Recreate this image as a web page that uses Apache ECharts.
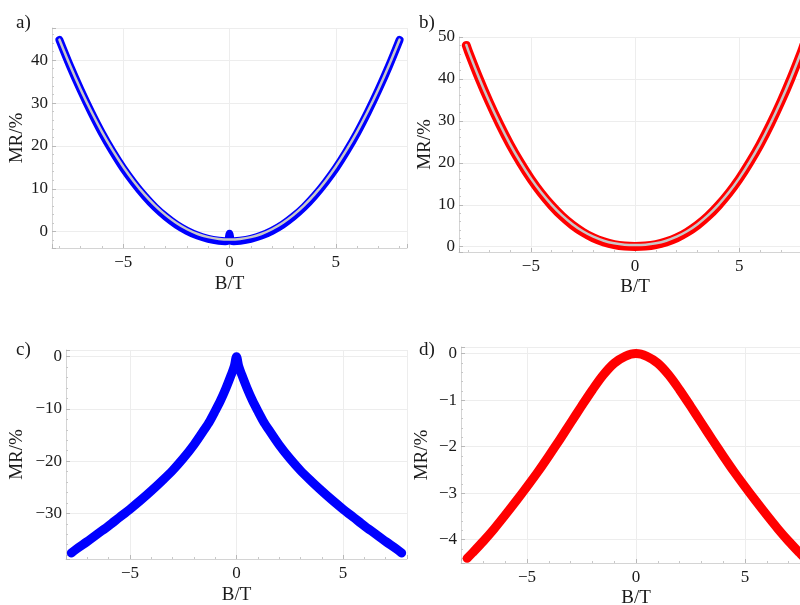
<!DOCTYPE html>
<html>
<head>
<meta charset="utf-8">
<script src="https://cdn.jsdelivr.net/npm/echarts@6/dist/echarts.min.js"></script>
<style>
html,body{margin:0;padding:0;background:#fff;overflow:hidden;}
#c{width:800px;height:605px;}
</style>
</head>
<body>
<div id="c"></div>
<script>
// ---- Panel a (blue data + gray fit) ----
const aFitB = [-8,-7.5,-7,-6.5,-6,-5.5,-5,-4.5,-4,-3.5,-3,-2.5,-2,-1.5,-1,-0.5,0,0.5,1,1.5,2,2.5,3,3.5,4,4.5,5,5.5,6,6.5,7,7.5,8];
const aFitMR = [44.78,38.77,33.18,28.02,23.29,19.02,15.16,11.73,8.70,6.08,3.86,2.02,0.57,-0.53,-1.27,-1.68,-1.8,-1.68,-1.27,-0.53,0.57,2.02,3.86,6.08,8.70,11.73,15.16,19.02,23.29,28.02,33.18,38.77,44.78];
const aDataB = [-8,-7.5,-7,-6.5,-6,-5.5,-5,-4.5,-4,-3.5,-3,-2.5,-2,-1.5,-1,-0.5,-0.2,-0.06,0,0.06,0.2,0.5,1,1.5,2,2.5,3,3.5,4,4.5,5,5.5,6,6.5,7,7.5,8];
const aDataMR = [44.7,38.6,33.0,27.8,23.0,18.7,14.8,11.4,8.35,5.7,3.5,1.65,0.2,-0.9,-1.65,-2.1,-2.2,-2.0,-0.5,-2.0,-2.2,-2.1,-1.65,-0.9,0.2,1.65,3.5,5.7,8.35,11.4,14.8,18.7,23.0,27.8,33.0,38.6,44.7];

// ---- Panel b (red data + gray fit) ----
const bFitB = [-8.1,-8,-7.5,-7,-6.5,-6,-5.5,-5,-4.5,-4,-3.5,-3,-2.5,-2,-1.5,-1,-0.5,0,0.5,1,1.5,2,2.5,3,3.5,4,4.5,5,5.5,6,6.5,7,7.5,8,8.1];
const bFitMR = [48.1,46.7,40.4,34.6,29.3,24.47,20.17,16.3,12.91,9.99,7.46,5.37,3.68,2.38,1.43,0.81,0.48,0.4,0.48,0.81,1.43,2.38,3.68,5.37,7.46,9.99,12.91,16.3,20.17,24.47,29.3,34.6,40.4,46.7,48.1];
const bDataB = bFitB;
const bDataMR = [48.0,46.6,40.3,34.5,29.2,24.35,20.05,16.15,12.75,9.8,7.25,5.15,3.45,2.1,1.15,0.5,0.15,0.05,0.15,0.5,1.15,2.1,3.45,5.15,7.25,9.8,12.75,16.15,20.05,24.35,29.2,34.5,40.3,46.6,48.0];

// ---- Panel c (blue data) ----
const cB = [-7.75,-7.5,-7,-6.5,-6,-5.5,-5,-4.5,-4,-3.5,-3,-2.5,-2,-1.5,-1.25,-1,-0.75,-0.5,-0.25,-0.1,0,0.1,0.25,0.5,0.75,1,1.25,1.5,2,2.5,3,3.5,4,4.5,5,5.5,6,6.5,7,7.5,7.75];
const cMR = [-37.6,-36.8,-35.4,-33.9,-32.4,-30.8,-29.2,-27.5,-25.7,-23.8,-21.8,-19.5,-16.9,-13.9,-12.3,-10.4,-8.4,-6.1,-3.5,-1.8,0,-1.8,-3.5,-6.1,-8.4,-10.4,-12.3,-13.9,-16.9,-19.5,-21.8,-23.8,-25.7,-27.5,-29.2,-30.8,-32.4,-33.9,-35.4,-36.8,-37.6];

// ---- Panel d (red data) ----
const dB = [-7.75,-7.5,-7,-6.5,-6,-5.5,-5,-4.5,-4,-3.5,-3,-2.5,-2,-1.5,-1,-0.5,0,0.5,1,1.5,2,2.5,3,3.5,4,4.5,5,5.5,6,6.5,7,7.5,7.75];
const dMR = [-4.40,-4.28,-4.03,-3.76,-3.47,-3.17,-2.86,-2.54,-2.20,-1.85,-1.49,-1.13,-0.78,-0.46,-0.21,-0.06,0,-0.06,-0.21,-0.46,-0.78,-1.13,-1.49,-1.85,-2.20,-2.54,-2.86,-3.17,-3.47,-3.76,-4.03,-4.28,-4.40];

const xTitle = 'B/T';
const yTitle = 'MR/%';
const panelLabels = ['a)','b)','c)','d)'];

function pairs(xs, ys){ return xs.map((x,i)=>[x, ys[i]]); }
const FONT = 'Liberation Serif';
const fmt = v => String(v).replace('-', '\u2212');

function axisCommon(idx, min, max, split, name, gap, margin, showMax){
  return {
    type:'value', gridIndex: idx, min, max, splitNumber: split,
    name, nameLocation:'middle', nameGap: gap,
    nameTextStyle:{fontFamily:FONT, fontSize:19, color:'#1a1a1a'},
    axisLine:{show:true, onZero:false, lineStyle:{color:'#d4d4d4', width:1}},
    axisTick:{show:true, inside:true, length:4, lineStyle:{color:'#b8b8b8'}},
    minorTick:{show:true, splitNumber:5, length:2, lineStyle:{color:'#c8c8c8'}},
    splitLine:{show:true, lineStyle:{color:'#ededed', width:1}},
    axisLabel:{fontFamily:FONT, fontSize:17, color:'#1a1a1a', margin, formatter: fmt, showMinLabel:false, showMaxLabel:!!showMax}
  };
}
function line(idx, data, color, width, z){
  return {type:'line', xAxisIndex:idx, yAxisIndex:idx, data, showSymbol:false, symbol:'none',
    smooth:0.3, clip:true,
    lineStyle:{color, width, cap:'round', join:'round'}, z, animation:false, silent:true};
}

const chart = echarts.init(document.getElementById('c'), null, {renderer:'canvas'});
chart.setOption({
  backgroundColor:'#fff',
  animation:false,
  grid:[
    {left:52, width:355, top:28, height:220, outerBoundsMode:'none', containLabel:false},
    {left:459, width:352, top:37, height:215, outerBoundsMode:'none', containLabel:false},
    {left:66, width:341, top:350, height:209, outerBoundsMode:'none', containLabel:false},
    {left:461, width:350, top:347, height:216, outerBoundsMode:'none', containLabel:false}
  ],
  xAxis:[
    axisCommon(0, -8.35, 8.35, 3, xTitle, 27, 6),
    axisCommon(1, -8.45, 8.45, 3, xTitle, 26, 6),
    axisCommon(2, -8.0, 8.0, 3, xTitle, 27, 6),
    axisCommon(3, -8.03, 8.03, 3, xTitle, 26, 6)
  ],
  yAxis:[
    axisCommon(0, -3.8, 47.5, 5, yTitle, 25, 4),
    axisCommon(1, -1.26, 50, 5, yTitle, 23, 4, true),
    axisCommon(2, -38.75, 1.28, 4, yTitle, 39, 4),
    axisCommon(3, -4.5, 0.14, 5, yTitle, 29, 4)
  ],
  graphic:[
    {type:'text', left:16, top:14, style:{text:panelLabels[0], font:'19px "Liberation Serif"', fill:'#1a1a1a'}},
    {type:'text', left:419, top:14, style:{text:panelLabels[1], font:'19px "Liberation Serif"', fill:'#1a1a1a'}},
    {type:'text', left:16, top:341, style:{text:panelLabels[2], font:'19px "Liberation Serif"', fill:'#1a1a1a'}},
    {type:'text', left:419, top:341, style:{text:panelLabels[3], font:'19px "Liberation Serif"', fill:'#1a1a1a'}}
  ],
  series:[
    line(0, pairs(aDataB, aDataMR), '#0000ff', 8, 2),
    line(0, pairs(aFitB, aFitMR), '#c8c8c8', 2.5, 3),
    line(1, pairs(bDataB, bDataMR), '#ff0000', 9, 2),
    line(1, pairs(bFitB, bFitMR), '#c8c8c8', 2.5, 3),
    line(2, pairs(cB, cMR), '#0000ff', 9, 2),
    line(3, pairs(dB, dMR), '#ff0000', 9, 2)
  ]
});
</script>
</body>
</html>
